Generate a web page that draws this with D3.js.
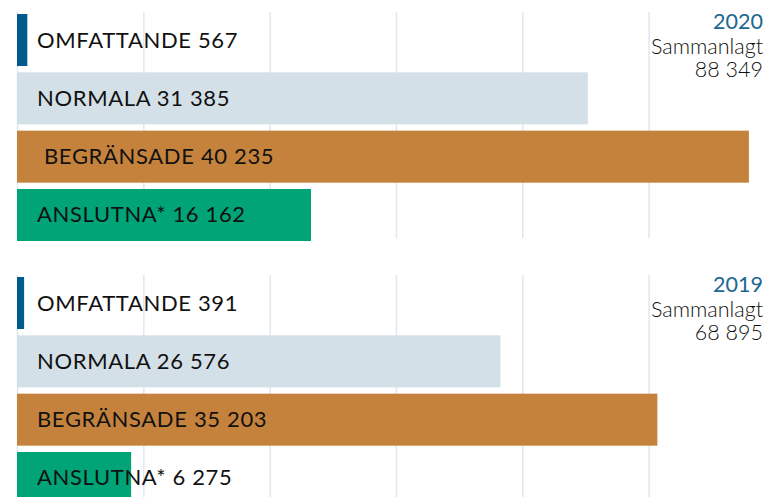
<!DOCTYPE html>
<html>
<head>
<meta charset="utf-8">
<script src="https://cdn.jsdelivr.net/npm/d3@7"></script>
<style>
  html, body { margin: 0; padding: 0; background: #fff; }
  svg { display: block; }
  text { font-family: Lato, "Open Sans", sans-serif; }
</style>
</head>
<body>
<svg id="chart" width="767" height="497"></svg>
<script>
// categories (top to bottom in each panel)
const categories = ["OMFATTANDE", "NORMALA", "BEGRÄNSADE", "ANSLUTNA*"];
const years = ["2020", "2019"];
const values2020 = [567, 31385, 40235, 16162];
const values2019 = [391, 26576, 35203, 6275];
const totals = [88349, 68895];
const totalLabel = "Sammanlagt";
const gridValues = [0, 6944, 13888, 20832, 27776, 34720];

const colors = ["#005b8c", "#d4e0e8", "#c5823c", "#00a477"];

const svg = d3.select("#chart");

const x = d3.scaleLinear()
    .domain([0, 42000])
    .range([17, 781]);

// swedish style thousands: "31 385"
const fmt = v => d3.format(",")(v).replace(/,/g, " ");

const panelTop = [14, 277];
const panels = [values2020, values2019];

panels.forEach((vals, p) => {
    let g = svg.append("g")
        .attr("transform", `translate(0,${panelTop[p]})`);

    let y = d3.scaleBand()
        .domain(categories)
        .range([0, 227])
        .paddingInner(0.108)
        .paddingOuter(0);

    // gridlines
    g.selectAll("line.grid")
        .data(gridValues)
        .enter().append("line")
        .attr("class", "grid")
        .attr("x1", d => x(d) + 0.5)
        .attr("x2", d => x(d) + 0.5)
        .attr("y1", -2)
        .attr("y2", p === 0 ? 224 : 240)
        .attr("stroke", "#dfe8ef")
        .attr("stroke-width", 1.5);

    let rows = categories.map((c, i) => ({cat: c, value: vals[i], color: colors[i]}));

    g.selectAll("rect.bar")
        .data(rows)
        .enter().append("rect")
        .attr("class", "bar")
        .attr("x", x(0))
        .attr("y", d => y(d.cat))
        .attr("width", d => x(d.value) - x(0))
        .attr("height", y.bandwidth())
        .attr("fill", d => d.color);

    g.selectAll("text.lbl")
        .data(rows)
        .enter().append("text")
        .attr("class", "lbl")
        .attr("x", (d, i) => (p === 0 && i === 2) ? 44 : 37)
        .attr("y", d => y(d.cat) + y.bandwidth() / 2 + 7.5)
        .attr("font-size", 22)
        .attr("letter-spacing", 0.65)
        .attr("fill", "#111")
        .text(d => `${d.cat} ${fmt(d.value)}`);

    // year + total, top right
    let t = g.append("text")
        .attr("text-anchor", "end")
        .attr("font-size", 21.5);
    t.append("tspan")
        .attr("x", 763)
        .attr("y", 15)
        .attr("fill", "#1b6791")
        .text(years[p]);
    t.append("tspan")
        .attr("x", 763)
        .attr("dy", 24.5)
        .attr("fill", "#111")
        .attr("font-weight", 300)
        .text(totalLabel);
    t.append("tspan")
        .attr("x", 763)
        .attr("dy", 23.5)
        .attr("fill", "#111")
        .attr("font-weight", 300)
        .text(fmt(totals[p]));
});
</script>
</body>
</html>
